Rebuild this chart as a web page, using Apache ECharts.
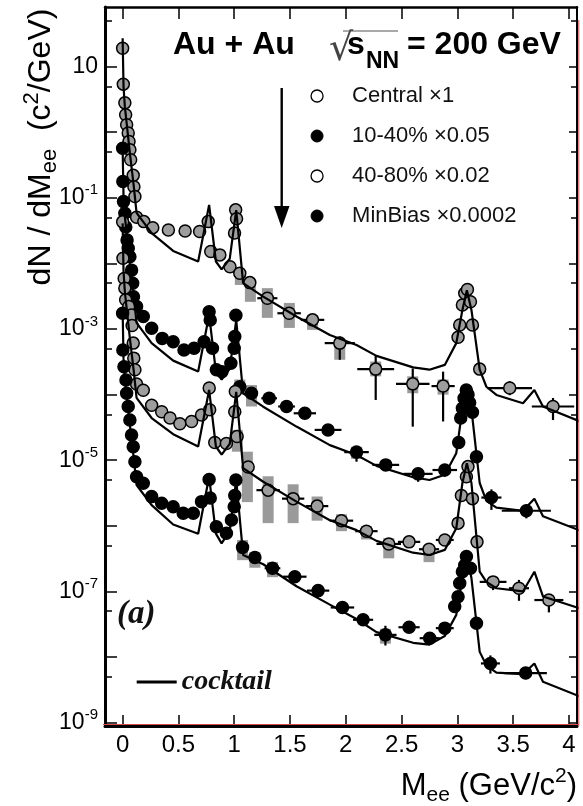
<!DOCTYPE html>
<html>
<head>
<meta charset="utf-8">
<script src="https://cdn.jsdelivr.net/npm/echarts@6.0.0/dist/echarts.min.js"></script>
<style>
html, body { margin: 0; padding: 0; background: #fff; }
#chart { width: 583px; height: 806px; }
</style>
</head>
<body>
<div id="chart"></div>
<script>
// Dielectron invariant-mass spectra, Au+Au at sqrt(s_NN) = 200 GeV,
// four centrality selections (scaled) compared with the hadronic cocktail.

// ---- axis ticks and labels ----
const massTicks = [0, 0.5, 1, 1.5, 2, 2.5, 3, 3.5, 4];
const yieldLabelTicks = [10, 1e-1, 1e-3, 1e-5, 1e-7, 1e-9];
const decadeTicks = [1e-9, 1e-8, 1e-7, 1e-6, 1e-5, 1e-4, 1e-3, 1e-2, 1e-1, 1, 10];
const halfDecadeTicks = [5e-9, 5e-8, 5e-7, 5e-6, 5e-5, 5e-4, 5e-3, 5e-2, 0.5, 5, 50];

// ---- series names ----
const seriesNames = ['Central \u00d71', '10-40% \u00d70.05', '40-80% \u00d70.02', 'MinBias \u00d70.0002'];

// ---- Central x1 ----
const centralMass = [0.000, 0.006, 0.020, 0.027, 0.036, 0.050, 0.057, 0.065, 0.072, 0.095, 0.101, 0.110, 0.125,
  0.190, 0.270, 0.410, 0.560, 0.690, 0.767, 0.790, 0.871, 0.962, 1.003, 1.013, 1.021, 1.050, 1.140, 1.297,
  1.492, 1.702, 1.946, 2.268, 2.600, 2.872, 3.006, 3.021, 3.045, 3.066, 3.090, 3.117, 3.135, 3.200, 3.469, 3.857];
const centralYield = [19.0, 5.4, 2.8, 1.85, 1.3, 0.97, 0.72, 0.54, 0.38, 0.22, 0.148, 0.105, 0.0506,
  0.0434, 0.0351, 0.0324, 0.0313, 0.0306, 0.0434, 0.0152, 0.0135, 0.0089, 0.029, 0.0655, 0.048, 0.0071, 0.0051, 0.00295,
  0.00174, 0.00138, 6.1e-4, 2.45e-4, 1.46e-4, 1.35e-4, 7.5e-4, 1.15e-3, 2.33e-3, 3.5e-3, 4.0e-3, 2.6e-3, 1.15e-3, 2.45e-4, 1.26e-4, 6.6e-5];
// [mass, yield, half bin width, stat low, stat high]
const centralStat = [
  [0.790, 0.0152, 0, 0.0128, 0.018], [1.050, 0.0071, 0, 0.0060, 0.0082], [1.140, 0.0051, 0, 0.0043, 0.0059],
  [1.297, 0.00295, 0.09, 0.0025, 0.0034], [1.492, 0.00174, 0.105, 0.0015, 0.0020], [1.702, 0.00138, 0.105, 0.00118, 0.0016],
  [1.946, 6.1e-4, 0.135, 3.4e-4, 7.7e-4], [2.268, 2.45e-4, 0.165, 8.3e-5, 4.0e-4], [2.600, 1.46e-4, 0.15, 3.25e-5, 2.5e-4],
  [2.872, 1.35e-4, 0.104, 3.9e-5, 2.24e-4], [3.200, 2.45e-4, 0, 2.0e-4, 3.0e-4], [3.469, 1.26e-4, 0.2, 9.8e-5, 1.6e-4],
  [3.857, 6.6e-5, 0.19, 4.1e-5, 8.9e-5]];
// [mass, syst low, syst high]
const centralSyst = [[1.055, 0.0047, 0.0072], [1.145, 0.0026, 0.0050], [1.297, 0.00148, 0.0042], [1.494, 0.00104, 0.0025],
  [1.702, 9.7e-4, 0.00164], [1.946, 3.4e-4, 6.5e-4], [2.268, 1.9e-4, 3.2e-4], [2.600, 1.05e-4, 1.9e-4], [2.872, 1.0e-4, 1.7e-4]];

// ---- 10-40% x0.05 ----
const semiMass = [0.000, 0.002, 0.008, 0.020, 0.028, 0.040, 0.050, 0.065, 0.080, 0.090, 0.097, 0.125, 0.185, 0.260,
  0.355, 0.453, 0.550, 0.640, 0.730, 0.775, 0.785, 0.805, 0.840, 0.890, 0.970, 1.000, 1.005, 1.015, 1.050, 1.155,
  1.313, 1.469, 1.633, 1.841, 2.096, 2.358, 2.648, 2.887, 3.012, 3.030, 3.045, 3.060, 3.080, 3.095, 3.110, 3.135,
  3.171, 3.305, 3.618];
const semiYield = [0.57, 0.177, 0.0875, 0.058, 0.036, 0.0228, 0.017, 0.0126, 0.0079, 0.0050, 0.0031, 0.0022, 0.00155, 1.03e-3,
  7.2e-4, 6.4e-4, 4.8e-4, 5.1e-4, 6.4e-4, 1.84e-3, 1.37e-3, 5.1e-4, 2.4e-4, 2.24e-4, 3.0e-4, 5.1e-4, 7.7e-4, 1.62e-3, 1.32e-4, 1.05e-4,
  8.8e-5, 6.6e-5, 5.2e-5, 2.9e-5, 1.33e-5, 8.5e-6, 6.2e-6, 7.1e-6, 1.86e-5, 4.4e-5, 6.2e-5, 8.8e-5, 1.18e-4, 1.0e-4, 7.5e-5, 5.4e-5,
  1.13e-5, 2.7e-6, 1.7e-6];
const semiStat = [
  [1.050, 1.32e-4, 0, 1.15e-4, 1.5e-4], [1.155, 1.05e-4, 0.05, 9.5e-5, 1.15e-4], [1.313, 8.8e-5, 0.07, 8.0e-5, 9.7e-5],
  [1.469, 6.6e-5, 0.075, 6.0e-5, 7.3e-5], [1.633, 5.2e-5, 0.1, 4.7e-5, 5.8e-5], [1.841, 2.9e-5, 0.12, 2.5e-5, 3.3e-5],
  [2.096, 1.33e-5, 0.11, 9.5e-6, 1.62e-5], [2.358, 8.5e-6, 0.12, 6.9e-6, 1.0e-5], [2.648, 6.2e-6, 0.13, 4.7e-6, 7.7e-6],
  [2.887, 7.1e-6, 0.11, 5.6e-6, 8.6e-6], [3.305, 2.7e-6, 0.09, 1.75e-6, 3.6e-6], [3.618, 1.7e-6, 0.22, 1.3e-6, 2.1e-6]];
const semiSyst = [[1.050, 1.0e-4, 1.7e-4], [1.155, 6.6e-5, 1.4e-4], [1.313, 7.4e-5, 1.05e-4], [1.469, 5.6e-5, 7.8e-5],
  [2.096, 1.05e-5, 1.6e-5]];

// ---- 40-80% x0.02 ----
const periMass = [0.000, 0.003, 0.014, 0.020, 0.027, 0.055, 0.080, 0.085, 0.095, 0.100, 0.110, 0.125, 0.185, 0.260,
  0.350, 0.425, 0.513, 0.618, 0.707, 0.776, 0.780, 0.826, 0.930, 1.005, 1.010, 1.026, 1.125, 1.304, 1.528, 1.743,
  1.961, 2.185, 2.385, 2.567, 2.746, 2.887, 3.006, 3.036, 3.081, 3.095, 3.135, 3.176, 3.320, 3.552, 3.820];
const periYield = [0.043, 0.012, 0.0059, 0.0042, 0.0028, 0.0022, 0.00164, 0.00113, 6.1e-4, 3.6e-4, 2.4e-4, 1.45e-4, 1.17e-4, 6.9e-5,
  5.5e-5, 4.4e-5, 3.6e-5, 3.9e-5, 4.9e-5, 1.26e-4, 5.9e-5, 1.86e-5, 1.8e-5, 5.5e-5, 1.12e-4, 2.3e-5, 7.9e-6, 3.5e-6, 2.6e-6, 2.0e-6,
  1.2e-6, 8.3e-7, 5.3e-7, 5.7e-7, 4.4e-7, 6.1e-7, 1.1e-6, 2.9e-6, 5.6e-6, 8.0e-6, 2.6e-6, 5.7e-7, 1.4e-7, 1.12e-7, 7.4e-8];
const periStat = [
  [1.304, 3.5e-6, 0.105, 3.0e-6, 4.0e-6], [1.528, 2.6e-6, 0.1, 2.3e-6, 2.9e-6], [1.743, 2.0e-6, 0.1, 1.8e-6, 2.2e-6],
  [1.961, 1.2e-6, 0.105, 1.05e-6, 1.4e-6], [2.185, 8.3e-7, 0.1, 7.3e-7, 9.5e-7], [2.385, 5.3e-7, 0.11, 4.4e-7, 6.3e-7],
  [2.567, 5.7e-7, 0.1, 5.0e-7, 6.5e-7], [2.746, 4.4e-7, 0.09, 3.6e-7, 5.3e-7], [2.887, 6.1e-7, 0.08, 5.2e-7, 7.0e-7],
  [3.320, 1.4e-7, 0.12, 1.05e-7, 1.67e-7], [3.552, 1.12e-7, 0.09, 7.2e-8, 1.5e-7], [3.820, 7.4e-8, 0.13, 4.8e-8, 9.1e-8]];
const periSyst = [[1.028, 1.35e-5, 2.9e-5], [1.118, 2.3e-6, 1.35e-5], [1.304, 1.1e-6, 5.7e-6], [1.528, 1.1e-6, 4.3e-6],
  [1.743, 1.2e-6, 2.8e-6], [1.961, 8.3e-7, 1.5e-6], [2.185, 6.2e-7, 9.9e-7], [2.385, 3.2e-7, 6.5e-7], [2.746, 2.8e-7, 5.1e-7]];

// ---- MinBias x0.0002 ----
const mbMass = [0.000, 0.002, 0.012, 0.030, 0.036, 0.050, 0.065, 0.080, 0.095, 0.110, 0.125, 0.185, 0.260, 0.350,
  0.453, 0.543, 0.633, 0.707, 0.775, 0.785, 0.840, 0.930, 0.975, 1.000, 1.005, 1.015, 1.075, 1.185, 1.343, 1.543,
  1.752, 1.970, 2.155, 2.355, 2.567, 2.752, 2.887, 2.976, 3.006, 3.021, 3.045, 3.066, 3.081, 3.117, 3.171, 3.296, 3.612];
const mbYield = [1.74e-3, 4.8e-4, 2.67e-4, 1.67e-4, 1.05e-4, 6.6e-5, 4.1e-5, 2.43e-5, 1.61e-5, 9.5e-6, 5.6e-6, 4.47e-6, 2.79e-6, 2.21e-6,
  1.96e-6, 1.56e-6, 1.56e-6, 2.34e-6, 5.1e-6, 2.66e-6, 9.7e-7, 7.7e-7, 1.23e-6, 1.96e-6, 2.9e-6, 5.0e-6, 4.7e-7, 3.3e-7, 2.26e-7, 1.68e-7,
  1.03e-7, 5.7e-8, 3.7e-8, 2.18e-8, 2.85e-8, 1.94e-8, 2.76e-8, 5.9e-8, 8.3e-8, 1.33e-7, 2.0e-7, 2.5e-7, 3.4e-7, 2.26e-7, 3.27e-8, 8.0e-9, 5.7e-9];
const mbStat = [
  [1.075, 4.7e-7, 0, 4.2e-7, 5.3e-7], [1.185, 3.3e-7, 0.05, 3.0e-7, 3.6e-7], [1.343, 2.26e-7, 0.07, 2.05e-7, 2.5e-7],
  [1.543, 1.68e-7, 0.105, 1.5e-7, 1.9e-7], [1.752, 1.03e-7, 0.1, 9.0e-8, 1.18e-7], [1.970, 5.7e-8, 0.105, 4.9e-8, 6.6e-8],
  [2.155, 3.7e-8, 0.09, 3.1e-8, 4.4e-8], [2.355, 2.18e-8, 0.1, 1.5e-8, 3.0e-8], [2.567, 2.85e-8, 0.095, 2.4e-8, 3.3e-8],
  [2.752, 1.94e-8, 0.09, 1.6e-8, 2.3e-8], [2.887, 2.76e-8, 0.08, 2.3e-8, 3.2e-8], [3.296, 8.0e-9, 0.085, 5.6e-9, 1.06e-8],
  [3.612, 5.7e-9, 0.19, 4.6e-9, 6.8e-9]];
const mbSyst = [[1.075, 3.0e-7, 6.1e-7], [1.185, 2.3e-7, 4.0e-7], [1.343, 1.65e-7, 2.8e-7], [2.355, 1.6e-8, 2.7e-8]];

// ---- hadronic cocktail, one curve per selection ----
const cocktailMass = [0.000, 0.008, 0.020, 0.065, 0.100, 0.125, 0.260, 0.453, 0.677, 0.775, 0.836, 0.887, 0.960, 1.018,
  1.080, 1.260, 1.558, 1.857, 2.096, 2.275, 2.603, 2.750, 2.887, 2.990, 3.045, 3.085, 3.126, 3.200, 3.260, 3.350,
  3.588, 3.690, 3.767, 4.100];
const cocktailCentral = [27, 5.0, 2.45, 0.48, 0.15, 0.059, 0.029, 0.0155, 0.0107, 0.078, 0.0107, 0.0081, 0.0118, 0.065,
  0.0050, 0.00312, 0.00155, 8.1e-4, 5.7e-4, 3.9e-4, 2.6e-4, 2.4e-4, 2.84e-4, 6.1e-4, 1.95e-3, 3.9e-3, 1.95e-3, 2.4e-4, 1.32e-4, 9.9e-5,
  7.4e-5, 1.18e-4, 6.6e-5, 3.9e-5];
const cocktailSemi = [0.57, 0.105, 0.0515, 0.0101, 0.00315, 0.00124, 6.1e-4, 3.3e-4, 2.25e-4, 1.64e-3, 2.25e-4, 1.7e-4, 2.48e-4, 1.37e-3,
  1.05e-4, 6.55e-5, 3.26e-5, 1.7e-5, 1.2e-5, 8.2e-6, 5.5e-6, 5.0e-6, 6.0e-6, 1.28e-5, 6.0e-5, 1.25e-4, 6.0e-5, 4.5e-6, 2.4e-6, 1.9e-6,
  1.7e-6, 2.6e-6, 1.4e-6, 8.5e-7];
const cocktailPeri = [0.0408, 7.6e-3, 3.7e-3, 7.2e-4, 2.27e-4, 8.9e-5, 4.4e-5, 2.5e-5, 1.62e-5, 1.18e-4, 1.62e-5, 1.22e-5, 1.78e-5, 1.1e-4,
  7.6e-6, 4.7e-6, 2.34e-6, 1.22e-6, 8.6e-7, 5.9e-7, 3.9e-7, 3.6e-7, 4.3e-7, 9.2e-7, 4.5e-6, 9.0e-6, 4.5e-6, 2.0e-7, 1.4e-7, 1.12e-7,
  1.0e-7, 2.0e-7, 8.4e-8, 5.5e-8];
const cocktailMB = [1.93e-3, 3.57e-4, 1.75e-4, 3.4e-5, 1.07e-5, 4.2e-6, 2.07e-6, 1.05e-6, 7.6e-7, 5.6e-6, 7.6e-7, 5.4e-7, 8.4e-7, 5.0e-6,
  3.6e-7, 2.6e-7, 1.2e-7, 6.3e-8, 3.8e-8, 2.4e-8, 1.65e-8, 1.55e-8, 2.1e-8, 4.4e-8, 1.6e-7, 3.6e-7, 1.6e-7, 1.2e-8, 7.5e-9, 5.8e-9,
  5.5e-9, 8.0e-9, 4.2e-9, 2.5e-9];

// ---- styling ----
const SANS = '"Liberation Sans", Arial, Helvetica, sans-serif';
const SERIF = '"Liberation Serif", "Times New Roman", serif';
const GRAY = '#9d9d9d';
const SYST_GRAY = '#9a9a9a';
const Y_MIN = 8.9e-10, Y_MAX = 81;
const X_MIN = -0.158, X_MAX = 4.072;

const pairs = (xs, ys) => xs.map((x, i) => [x, ys[i]]);

function renderStat(params, api) {
  const m = api.value(0), y = api.value(1), dx = api.value(2), lo = api.value(3), hi = api.value(4);
  const c = api.coord([m, y]);
  const st = { stroke: '#000', lineWidth: 2.2 };
  const kids = [];
  if (dx > 0) {
    const a = api.coord([m - dx, y]), b = api.coord([m + dx, y]);
    kids.push({ type: 'line', shape: { x1: a[0], y1: c[1], x2: b[0], y2: c[1] }, style: st });
  }
  if (lo > 0 && hi > 0) {
    const p = api.coord([m, lo]), q = api.coord([m, hi]);
    kids.push({ type: 'line', shape: { x1: c[0], y1: p[1], x2: c[0], y2: q[1] }, style: st });
  }
  return { type: 'group', children: kids };
}

function renderSyst(params, api) {
  const top = api.coord([api.value(0), api.value(2)]);
  const bot = api.coord([api.value(0), api.value(1)]);
  return { type: 'rect', shape: { x: top[0] - 5.5, y: top[1], width: 11, height: bot[1] - top[1] },
           style: { fill: SYST_GRAY } };
}

const groups = [
  { name: seriesNames[0], mass: centralMass, y: centralYield, stat: centralStat, syst: centralSyst, fill: GRAY },
  { name: seriesNames[1], mass: semiMass, y: semiYield, stat: semiStat, syst: semiSyst, fill: '#000' },
  { name: seriesNames[2], mass: periMass, y: periYield, stat: periStat, syst: periSyst, fill: GRAY },
  { name: seriesNames[3], mass: mbMass, y: mbYield, stat: mbStat, syst: mbSyst, fill: '#000' }
];
const cocktails = [cocktailCentral, cocktailSemi, cocktailPeri, cocktailMB];

const series = [];
groups.forEach(g => {
  series.push({ name: g.name, type: 'scatter', data: pairs(g.mass, g.y), symbol: 'circle', symbolSize: 12,
    itemStyle: { color: g.fill, borderColor: '#000', borderWidth: 1.5, opacity: 1 }, z: 5, silent: true });
});
groups.forEach(g => {
  series.push({ name: g.name, type: 'custom', renderItem: renderSyst, data: g.syst,
    encode: { x: 0, y: [1, 2] }, z: 2, silent: true, clip: true });
  series.push({ name: g.name, type: 'custom', renderItem: renderStat, data: g.stat,
    encode: { x: 0, y: 1 }, z: 3, silent: true, clip: true });
});
cocktails.forEach(c => {
  series.push({ name: 'cocktail', type: 'line', data: pairs(cocktailMass, c), symbol: 'none', showSymbol: false,
    lineStyle: { color: '#000', width: 2.2 }, itemStyle: { color: '#000' }, z: 6, silent: true, clip: true });
});

function yLabel(v) {
  const e = Math.round(Math.log10(v));
  return e === 1 ? '10' : '10{sup|' + e + '}';
}

const logAxisBase = { type: 'log', logBase: 10, min: Y_MIN, max: Y_MAX, splitLine: { show: false },
  minorTick: { show: false }, axisPointer: { show: false } };

const option = {
  animation: false,
  backgroundColor: '#fff',
  grid: { left: 105, top: 7, width: 472, height: 719, containLabel: false },
  xAxis: [
    { type: 'value', min: X_MIN, max: X_MAX, position: 'bottom', splitLine: { show: false },
      axisLine: { show: true, onZero: false, lineStyle: { color: '#000', width: 3 } },
      axisTick: { show: true, inside: true, length: 11, customValues: massTicks, lineStyle: { color: '#000', width: 1.5 } },
      axisLabel: { show: true, customValues: massTicks, margin: 7, fontSize: 24, color: '#000', fontFamily: SANS,
        formatter: v => String(v) } },
    { type: 'value', min: X_MIN, max: X_MAX, position: 'top', splitLine: { show: false },
      axisLine: { show: true, onZero: false, lineStyle: { color: '#000', width: 2.5 } },
      axisTick: { show: true, inside: true, length: 12, customValues: massTicks, lineStyle: { color: '#000', width: 1.5 } },
      axisLabel: { show: false } }
  ],
  yAxis: [
    Object.assign({}, logAxisBase, { position: 'left',
      axisLine: { show: true, onZero: false, lineStyle: { color: '#000', width: 3 } },
      axisTick: { show: true, inside: true, length: 12, customValues: decadeTicks, lineStyle: { color: '#000', width: 1.5 } },
      axisLabel: { show: true, customValues: yieldLabelTicks, margin: 7, fontSize: 23, lineHeight: 30, color: '#000',
        fontFamily: SANS, formatter: yLabel,
        rich: { sup: { fontSize: 15, lineHeight: 14, verticalAlign: 'top', fontFamily: SANS, color: '#000' } } } }),
    Object.assign({}, logAxisBase, { position: 'left',
      axisLine: { show: false, onZero: false },
      axisTick: { show: true, inside: true, length: 7, customValues: halfDecadeTicks, lineStyle: { color: '#000', width: 1.5 } },
      axisLabel: { show: false } }),
    Object.assign({}, logAxisBase, { position: 'right',
      axisLine: { show: true, onZero: false, lineStyle: { color: '#000', width: 2 } },
      axisTick: { show: true, inside: true, length: 8, customValues: decadeTicks, lineStyle: { color: '#000', width: 1.5 } },
      axisLabel: { show: false } }),
    Object.assign({}, logAxisBase, { position: 'right',
      axisLine: { show: false, onZero: false },
      axisTick: { show: true, inside: true, length: 6, customValues: halfDecadeTicks, lineStyle: { color: '#000', width: 1.5 } },
      axisLabel: { show: false } })
  ],
  legend: [
    { orient: 'vertical', left: 310.4, top: 84, padding: 0, itemGap: 16, itemWidth: 60, itemHeight: 12,
      selectedMode: false,
      textStyle: { fontSize: 22, lineHeight: 24, fontFamily: SANS, color: '#111' },
      data: [
        { name: seriesNames[0], icon: 'circle', itemStyle: { color: '#fff', borderColor: '#000', borderWidth: 1.3 } },
        { name: seriesNames[1], icon: 'circle', itemStyle: { color: '#000', borderColor: '#000', borderWidth: 1 } },
        { name: seriesNames[2], icon: 'circle', itemStyle: { color: '#fff', borderColor: '#000', borderWidth: 1.3 } },
        { name: seriesNames[3], icon: 'circle', itemStyle: { color: '#000', borderColor: '#000', borderWidth: 1 } }
      ] },
    { orient: 'horizontal', left: 136.7, top: 668, padding: 0, itemWidth: 40, itemHeight: 3, selectedMode: false,
      textStyle: { fontSize: 28, fontFamily: SERIF, fontStyle: 'italic', fontWeight: 'bold', color: '#111' },
      data: [{ name: 'cocktail', icon: 'rect', itemStyle: { color: '#000', borderWidth: 0 } }] }
  ],
  graphic: [
    { type: 'text', x: 173, y: 45, style: { text: 'Au + Au', font: 'bold 32px ' + SANS, fill: '#000',
        align: 'left', verticalAlign: 'middle', textAlign: 'left', textVerticalAlign: 'middle' } },
    { type: 'text', x: 329, y: 50, style: { text: '\u221a', font: '38px "DejaVu Sans"', fill: '#444',
        align: 'left', verticalAlign: 'middle', textAlign: 'left', textVerticalAlign: 'middle' } },
    { type: 'line', shape: { x1: 343, y1: 31, x2: 398, y2: 31 }, style: { stroke: '#555', lineWidth: 1.2 } },
    { type: 'text', x: 347, y: 45, style: { text: 's', font: 'bold 32px ' + SANS, fill: '#000',
        align: 'left', verticalAlign: 'middle', textAlign: 'left', textVerticalAlign: 'middle' } },
    { type: 'text', x: 366, y: 62, style: { text: 'NN', font: 'bold 23px ' + SANS, fill: '#000',
        align: 'left', verticalAlign: 'middle', textAlign: 'left', textVerticalAlign: 'middle' } },
    { type: 'text', x: 407, y: 45, style: { text: '= 200 GeV', font: 'bold 32px ' + SANS, fill: '#000',
        align: 'left', verticalAlign: 'middle', textAlign: 'left', textVerticalAlign: 'middle' } },
    // downward arrow under the title
    { type: 'line', shape: { x1: 281.7, y1: 88, x2: 281.7, y2: 212 }, style: { stroke: '#000', lineWidth: 2.4 } },
    { type: 'polygon', shape: { points: [[274, 206], [289.5, 206], [281.7, 228]] }, style: { fill: '#000' } },
    // panel tag
    { type: 'text', x: 117, y: 614, style: { text: '(a)', font: 'italic bold 33px ' + SERIF, fill: '#111',
        align: 'left', verticalAlign: 'middle', textAlign: 'left', textVerticalAlign: 'middle' } },
    // axis titles
    { type: 'text', x: 41, y: 147, rotation: Math.PI / 2,
      style: { text: 'dN / dM{sub|ee}  (c{sup|2}/GeV)', font: '32px ' + SANS, fill: '#000', lineHeight: 40,
        align: 'center', verticalAlign: 'middle', textAlign: 'center', textVerticalAlign: 'middle',
        rich: { sub: { fontSize: 22, lineHeight: 18, verticalAlign: 'bottom', fontFamily: SANS, fill: '#000' },
                sup: { fontSize: 22, lineHeight: 26, verticalAlign: 'top', fontFamily: SANS, fill: '#000' } } } },
    { type: 'text', x: 577, y: 786,
      style: { text: 'M{sub|ee} (GeV/c{sup|2})', font: '31px ' + SANS, fill: '#000', lineHeight: 40,
        align: 'right', verticalAlign: 'middle', textAlign: 'right', textVerticalAlign: 'middle',
        rich: { sub: { fontSize: 21, lineHeight: 18, verticalAlign: 'bottom', fontFamily: SANS, fill: '#000' },
                sup: { fontSize: 21, lineHeight: 26, verticalAlign: 'top', fontFamily: SANS, fill: '#000' } } } },
    // thin red edge lines along the frame
    { type: 'line', shape: { x1: 103, y1: 724.5, x2: 579, y2: 724.5 }, style: { stroke: '#d84a4a', lineWidth: 1 }, z: 100 },
    { type: 'line', shape: { x1: 578.8, y1: 20, x2: 578.8, y2: 726 }, style: { stroke: '#d84a4a', lineWidth: 1 }, z: 100 }
  ],
  series: series
};

const chart = echarts.init(document.getElementById('chart'), null, { renderer: 'canvas' });
chart.setOption(option);
</script>
</body>
</html>
